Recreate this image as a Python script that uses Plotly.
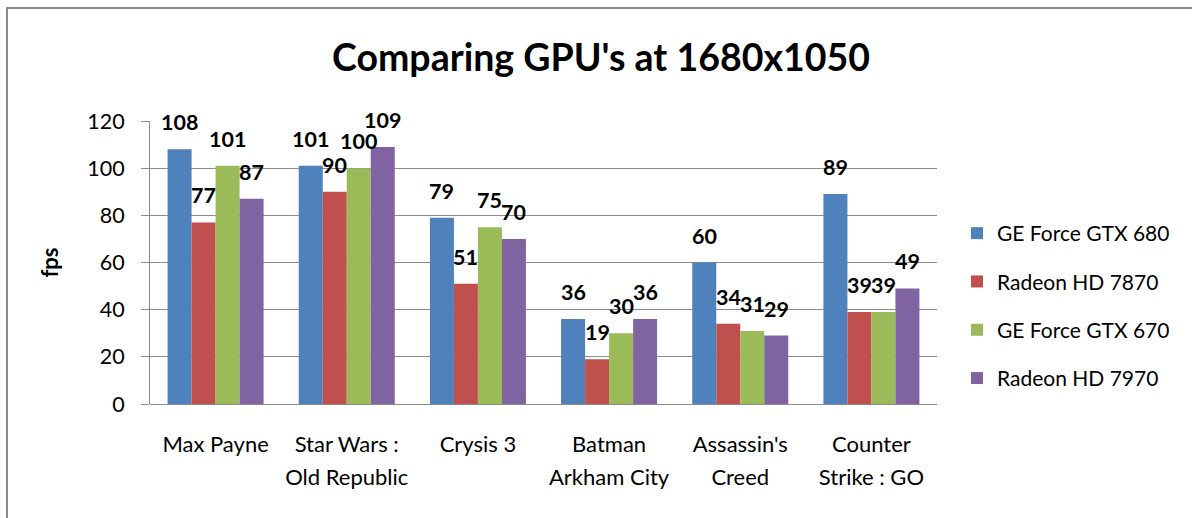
import plotly.graph_objects as go

# ---- data ----
categories = ["Max Payne", "Star Wars :\nOld Republic", "Crysis 3",
              "Batman\nArkham City", "Assassin's\nCreed", "Counter\nStrike : GO"]
series_names = ["GE Force GTX 680", "Radeon HD 7870", "GE Force GTX 670", "Radeon HD 7970"]
gtx680 = [108, 101, 79, 36, 60, 89]
hd7870 = [77, 90, 51, 19, 34, 39]
gtx670 = [101, 100, 75, 30, 31, 39]
hd7970 = [87, 109, 70, 36, 29, 49]
y_ticks = [0, 20, 40, 60, 80, 100, 120]

series_values = [gtx680, hd7870, gtx670, hd7970]
colors = ["#4F81BD", "#C0504D", "#9BBB59", "#8064A2"]

W, H = 1192, 518
L, R, T, B = 150, 255, 121, 114
BARGAP = 0.268
FONT = "Lato"
pw = W - L - R
ph = H - T - B

fig = go.Figure()
for name, vals, col in zip(series_names, series_values, colors):
    fig.add_trace(go.Bar(
        x=list(range(len(categories))), y=vals, name=name,
        marker=dict(color=col, line=dict(width=0)),
        legendgroup=name,
    ))

# data labels (annotations placed through the axis scales)
n = len(series_values)
bw = (1 - BARGAP) / n
annotations = []
for j, vals in enumerate(series_values):
    for i, v in enumerate(vals):
        annotations.append(dict(
            x=i + (j - (n - 1) / 2) * bw, y=v, xref="x", yref="y",
            text="<b>%d</b>" % v, showarrow=False, yanchor="middle", yshift=27,
            font=dict(family=FONT, size=21.5, color="black"),
        ))

annotations.append(dict(
    text="<b>Comparing GPU's at 1680x1050</b>", xref="paper", yref="paper",
    x=(601 - L) / pw, y=((H - B) - 57) / ph, showarrow=False,
    font=dict(family=FONT, size=37.5, color="black"), xanchor="center", yanchor="middle",
))

ticktext = ["<br>".join('<span style="font-size:22px">%s</span>' % ln for ln in c.split("\n"))
            for c in categories]

fig.update_layout(
    width=W, height=H,
    margin=dict(l=L, r=R, t=T, b=B, pad=0),
    paper_bgcolor="white", plot_bgcolor="white",
    barmode="group", bargap=BARGAP, bargroupgap=0,
    font=dict(family=FONT, color="black"),
    showlegend=True,
    legend=dict(
        x=(957 - L) / pw, xanchor="left",
        y=((H - B) - 306) / ph, yanchor="middle",
        font=dict(family=FONT, size=21, color="black"),
        tracegroupgap=18, itemclick=False, bgcolor="rgba(0,0,0,0)",
    ),
    xaxis=dict(
        tickmode="array", tickvals=list(range(len(categories))), ticktext=ticktext,
        tickfont=dict(family=FONT, size=25, color="black"),
        showline=False, showgrid=False, ticks="", range=[-0.5, len(categories) - 0.5],
        ticklabelstandoff=22, fixedrange=True,
    ),
    yaxis=dict(
        range=[0, 120], tickvals=y_ticks, showgrid=True, gridcolor="#8C8C8C", gridwidth=1,
        showline=True, linecolor="#8C8C8C", linewidth=1, ticks="outside", ticklen=8,
        tickcolor="#8C8C8C", tickfont=dict(family=FONT, size=21.5, color="black"),
        ticklabelstandoff=12, zeroline=True, zerolinecolor="#8C8C8C", zerolinewidth=1,
        title=dict(text="<b>fps</b>", font=dict(family=FONT, size=22, color="black"), standoff=22),
        fixedrange=True,
    ),
    annotations=annotations,
)

# outer chart border (only left and top visible in frame)
fig.add_shape(type="rect", xref="paper", yref="paper",
              x0=(7 - L) / pw, x1=(W + 20 - L) / pw,
              y0=((H - B) - (H + 20)) / ph, y1=((H - B) - 8) / ph,
              line=dict(color="#8C8C8C", width=2), fillcolor="rgba(0,0,0,0)", layer="below")

fig.write_html("out.html", post_script="document.body.style.margin='0';",
               config={"displayModeBar": False})
